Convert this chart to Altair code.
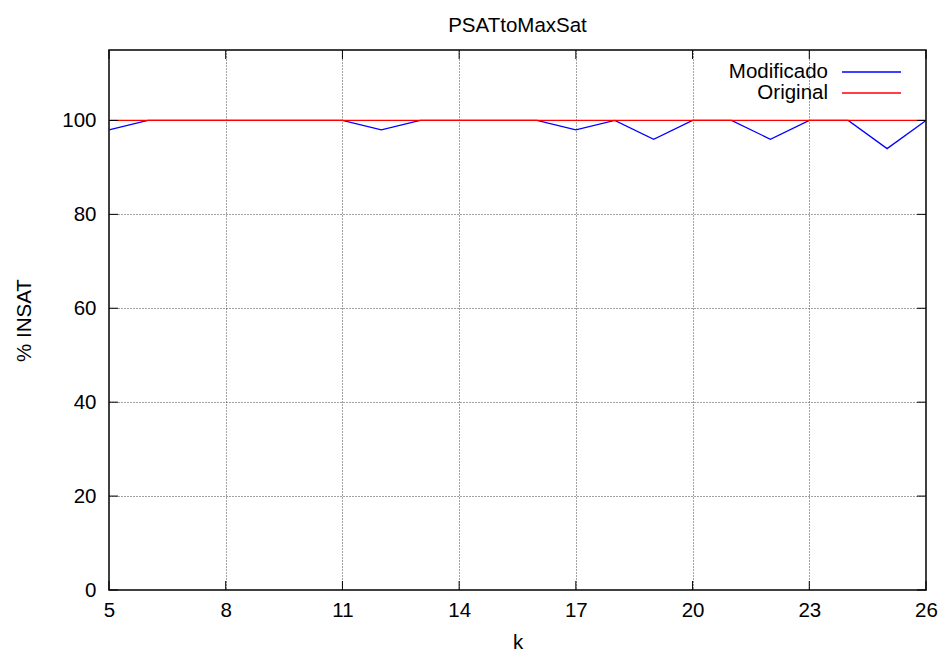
import altair as alt
import pandas as pd

# Series values
k_values = list(range(5, 27))
modificado = [98, 100, 100, 100, 100, 100, 100, 98, 100, 100, 100,
              100, 98, 100, 96, 100, 100, 96, 100, 100, 94, 100]
original = [100] * len(k_values)

series_names = ["Modificado", "Original"]
series_colors = ["#0000ff", "#ff0000"]

x_ticks = [5, 8, 11, 14, 17, 20, 23, 26]
y_ticks = [0, 20, 40, 60, 80, 100]

W, H = 817, 540
FONT = "Liberation Sans"
FS = 20.5

df = pd.DataFrame({
    "k": k_values * 2,
    "pct": modificado + original,
    "serie": ["Modificado"] * len(k_values) + ["Original"] * len(k_values),
})
df["order"] = df["serie"].map({"Modificado": 0, "Original": 1})

xscale = alt.Scale(domain=[5, 26], nice=False, zero=False)
yscale = alt.Scale(domain=[0, 115], nice=False)
color_scale = alt.Scale(domain=series_names, range=series_colors)

grid_style = dict(grid=True, gridColor="#444444", gridDash=[1, 2], gridWidth=1,
                  ticks=False, domain=False, labelFlush=False, labelFont=FONT,
                  labelFontSize=FS, labelColor="black", titleFont=FONT,
                  titleFontSize=FS, titleFontWeight="normal", titleColor="black")

lines = alt.Chart(df).mark_line(strokeWidth=1.3).encode(
    x=alt.X("k:Q", scale=xscale,
            axis=alt.Axis(values=x_ticks, title="k", labelPadding=10,
                          titlePadding=12, **grid_style)),
    y=alt.Y("pct:Q", scale=yscale,
            axis=alt.Axis(values=y_ticks, title="% INSAT", labelPadding=13,
                          titlePadding=27, **grid_style)),
    color=alt.Color("serie:N", scale=color_scale, legend=None),
    detail="serie:N",
    order="order:Q",
)

xt = pd.DataFrame({"k": x_ticks})
yt = pd.DataFrame({"pct": y_ticks})

tick_bottom = alt.Chart(xt).mark_rule(color="black", strokeWidth=1).encode(
    x=alt.X("k:Q", scale=xscale), y=alt.value(H), y2=alt.value(H - 9))
tick_top = alt.Chart(xt).mark_rule(color="black", strokeWidth=1).encode(
    x=alt.X("k:Q", scale=xscale), y=alt.value(0), y2=alt.value(9))
tick_left = alt.Chart(yt).mark_rule(color="black", strokeWidth=1).encode(
    y=alt.Y("pct:Q", scale=yscale), x=alt.value(0), x2=alt.value(9))
tick_right = alt.Chart(yt).mark_rule(color="black", strokeWidth=1).encode(
    y=alt.Y("pct:Q", scale=yscale), x=alt.value(W), x2=alt.value(W - 9))

# Key in the upper right: label then line sample, one row per series
leg = pd.DataFrame({"serie": series_names})
key_layers = []
for i, (name, col) in enumerate(zip(series_names, series_colors)):
    row_y = 22 + 21 * i
    base = alt.Chart(leg).transform_filter(alt.datum.serie == name)
    key_layers.append(base.mark_text(align="right", baseline="middle",
                                     font=FONT, fontSize=FS, color="black").encode(
        x=alt.value(719), y=alt.value(row_y), text="serie:N"))
    key_layers.append(base.mark_rule(strokeWidth=1.3, color=col).encode(
        x=alt.value(733), x2=alt.value(792), y=alt.value(row_y)))

chart = alt.layer(
    lines, tick_bottom, tick_top, tick_left, tick_right, *key_layers
).properties(
    width=W, height=H,
    title=alt.TitleParams("PSATtoMaxSat", font=FONT, fontSize=FS,
                          fontWeight="normal", color="black", offset=13),
    autosize=alt.AutoSizeParams(type="none"),
    padding={"left": 109, "top": 50, "right": 18, "bottom": 67},
).configure(
    background="white"
).configure_view(
    stroke="black", strokeWidth=1.5
)

chart.save("out.html", embed_options={"renderer": "svg", "actions": False})
